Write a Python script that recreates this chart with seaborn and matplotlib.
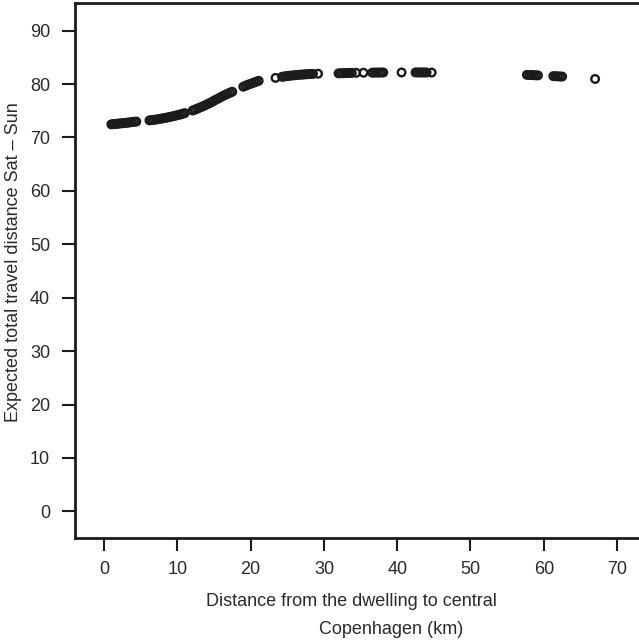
import matplotlib
matplotlib.use("Agg")
import matplotlib.pyplot as plt
import seaborn as sns
import pandas as pd

# distance to central Copenhagen (km)
dist_km = [
    1.0, 1.25, 1.5, 1.75, 2.0, 2.25, 2.5, 2.75, 3.0, 3.25, 3.5, 3.8, 4.1, 4.4,
    6.2, 6.5, 6.8, 7.1, 7.4, 7.7, 8.0, 8.3, 8.6, 8.9, 9.2, 9.5, 9.8, 10.1, 10.4, 10.7, 11.0,
    12.1, 12.4, 12.7, 13.0, 13.3, 13.6, 13.9, 14.2, 14.5, 14.8, 15.1, 15.4, 15.7, 16.0,
    16.3, 16.6, 16.9, 17.2, 17.5,
    19.0, 19.3, 19.6, 19.9, 20.2, 20.5, 20.8, 21.1,
    23.4, 24.3, 24.6, 24.9, 25.2, 25.5, 25.8, 26.1, 26.4, 26.7, 27.0, 27.3, 27.6, 27.9, 28.2,
    28.5, 29.2,
    32.0, 32.3, 32.6, 32.9, 33.2, 33.5, 33.8, 34.4, 35.4,
    36.6, 36.9, 37.2, 37.5, 37.8, 38.1, 40.6,
    42.5, 42.8, 43.1, 43.4, 43.7, 44.0, 44.7,
    57.7, 58.0, 58.3, 58.6, 58.9, 59.2,
    61.3, 61.6, 61.9, 62.2, 62.5,
    67.0,
]

# expected total travel distance Sat - Sun
travel = [
    72.45, 72.5, 72.52, 72.56, 72.6, 72.63, 72.66, 72.7, 72.74, 72.78, 72.82, 72.87, 72.92, 72.98,
    73.2, 73.25, 73.3, 73.36, 73.42, 73.5, 73.57, 73.65, 73.73, 73.82, 73.9, 74.0, 74.1, 74.2,
    74.3, 74.42, 74.55,
    75.05, 75.2, 75.38, 75.55, 75.72, 75.9, 76.1, 76.3, 76.5, 76.72, 76.95, 77.15, 77.38,
    77.6, 77.82, 78.02, 78.2, 78.38, 78.55,
    79.5, 79.68, 79.85, 80.0, 80.15, 80.3, 80.45, 80.6,
    81.15, 81.35, 81.42, 81.48, 81.53, 81.58, 81.62, 81.66, 81.7, 81.74, 81.77, 81.8, 81.83,
    81.86, 81.88, 81.9, 81.93,
    82.0, 82.02, 82.03, 82.05, 82.06, 82.08, 82.09, 82.1, 82.12,
    82.13, 82.14, 82.15, 82.15, 82.16, 82.16, 82.17,
    82.17, 82.17, 82.17, 82.17, 82.16, 82.16, 82.15,
    81.72, 81.7, 81.68, 81.66, 81.64, 81.62,
    81.48, 81.46, 81.44, 81.42, 81.4,
    80.95,
]

x_ticks = [0, 10, 20, 30, 40, 50, 60, 70]
y_ticks = [0, 10, 20, 30, 40, 50, 60, 70, 80, 90]

df = pd.DataFrame({"dist": dist_km, "travel": travel})

ink = "#1c1a1b"
txt = "#2a2a2a"

sns.set_theme(style="ticks")
plt.rcParams["font.family"] = ["Liberation Sans", "DejaVu Sans"]

fig = plt.figure(figsize=(6.39, 6.4), dpi=100)
ax = fig.add_axes([75 / 639, 102 / 640, 564 / 639, 535 / 640])

sns.scatterplot(data=df, x="dist", y="travel", ax=ax, marker="o",
                s=30, facecolors="none", edgecolor=ink, linewidth=1.7,
                legend=False)
ax.collections[0].set_facecolor("none")

ax.set_xlim(-3.96, 72.99)
ax.set_ylim(-4.98, 95.17)
ax.set_xticks(x_ticks)
ax.set_yticks(y_ticks)
ax.tick_params(axis="both", length=9.4, width=1.5, color=ink,
               labelsize=13, labelcolor=txt, direction="out")
ax.tick_params(axis="y", pad=8.5)
ax.tick_params(axis="x", pad=7.5)

for side in ["left", "bottom", "top"]:
    ax.spines[side].set_color(ink)
    ax.spines[side].set_linewidth(2.0)
ax.spines["right"].set_visible(False)

ax.set_xlabel("")
ax.set_ylabel("")
fig.text(14 / 639, 1 - 262 / 640, "Expected total travel distance Sat \u2013 Sun",
         rotation=90, ha="center", va="center", fontsize=13, color=txt)
fig.text(351 / 639, 1 - 602 / 640, "Distance from the dwelling to central",
         ha="center", va="center", fontsize=13, color=txt)
fig.text(391 / 639, 1 - 629 / 640, "Copenhagen (km)",
         ha="center", va="center", fontsize=13, color=txt)

fig.savefig("out.png", dpi=100)
